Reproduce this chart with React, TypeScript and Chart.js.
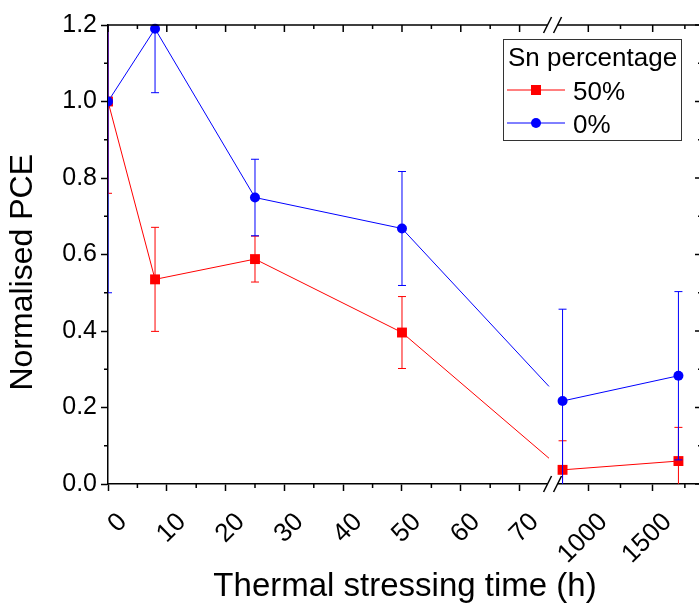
import React, { useEffect, useRef } from 'react';
import { Chart, registerables, LinearScale } from 'chart.js';

Chart.register(...registerables);

// ---------------- data ----------------
const TIME_H = [0, 8, 25, 50, 800, 1700];
const PCE_SN50 = [1.0, 0.535, 0.588, 0.396, 0.037, 0.06];
const ERR_SN50 = [0.24, 0.136, 0.06, 0.094, 0.076, 0.088];
const PCE_SN0 = [1.0, 1.19, 0.749, 0.668, 0.217, 0.283];
const ERR_SN0 = [0.5, 0.167, 0.1, 0.149, 0.24, 0.22];

const X_MAJOR_TICKS = [0, 10, 20, 30, 40, 50, 60, 70, 1000, 1500];
const X_MINOR_TICKS = [5, 15, 25, 35, 45, 55, 65, 1250, 1750];
const Y_MINOR_TICKS = [0.1, 0.3, 0.5, 0.7, 0.9, 1.1];

const SERIES_LABELS = ['50%', '0%'];
const LEGEND_TITLE = 'Sn percentage';
const X_TITLE = 'Thermal stressing time (h)';
const Y_TITLE = 'Normalised PCE';

// axis break: first segment 0..BREAK_FROM, second BREAK_TO..X_MAX
const BREAK_FROM = 75;
const BREAK_TO = 750;
const X_MAX = 1883;
const SEG1_FRAC = 0.7424;
const SEG2_FRAC = 0.7544;

const FONT = '"Liberation Sans", Arial, Helvetica, sans-serif';
const RED = '#ff0000';
const BLUE = '#0000ff';

// ---------------- broken linear scale ----------------
class BrokenLinearScale extends LinearScale {
  static id = 'brokenLinear';
  static defaults = LinearScale.defaults;

  buildTicks() {
    return X_MAJOR_TICKS.map((value) => ({ value }));
  }

  valueToDecimal(v: number) {
    if (v <= BREAK_FROM) return (v / BREAK_FROM) * SEG1_FRAC;
    if (v >= BREAK_TO) return SEG2_FRAC + ((v - BREAK_TO) / (X_MAX - BREAK_TO)) * (1 - SEG2_FRAC);
    return SEG1_FRAC + ((v - BREAK_FROM) / (BREAK_TO - BREAK_FROM)) * (SEG2_FRAC - SEG1_FRAC);
  }

  getPixelForValue(v: number) {
    return this.getPixelForDecimal(this.valueToDecimal(v));
  }

  getValueForPixel(p: number) {
    const d = this.getDecimalForPixel(p);
    if (d <= SEG1_FRAC) return (d / SEG1_FRAC) * BREAK_FROM;
    if (d >= SEG2_FRAC) return BREAK_TO + ((d - SEG2_FRAC) / (1 - SEG2_FRAC)) * (X_MAX - BREAK_TO);
    return BREAK_FROM + ((d - SEG1_FRAC) / (SEG2_FRAC - SEG1_FRAC)) * (BREAK_TO - BREAK_FROM);
  }
}
Chart.register(BrokenLinearScale as any);

const LAST_BEFORE_BREAK = TIME_H.findIndex((t) => t > BREAK_FROM) - 1;

function toPoints(ys: number[]) {
  return TIME_H.map((x, i) => ({ x, y: ys[i] }));
}

// ---------------- decoration plugin ----------------
const decorPlugin = {
  id: 'decor',
  beforeDatasetDraw(chart: any, args: any) {
    const { ctx, chartArea: a } = chart;
    const xs = chart.scales.x;
    const ys = chart.scales.y;
    const ds = chart.data.datasets[args.index];
    const meta = args.meta;
    ctx.save();
    ctx.beginPath();
    ctx.rect(a.left, a.top, a.right - a.left, a.bottom - a.top);
    ctx.clip();
    // error bars
    ctx.strokeStyle = ds.borderColor;
    ctx.lineWidth = 1;
    meta.data.forEach((pt: any, i: number) => {
      const v = ds.data[i].y;
      const e = ds.errorBars[i];
      const x = pt.x;
      const yT = ys.getPixelForValue(v + e);
      const yB = ys.getPixelForValue(v - e);
      ctx.beginPath();
      ctx.moveTo(x, yT);
      ctx.lineTo(x, yB);
      ctx.moveTo(x - 4, yT);
      ctx.lineTo(x + 4, yT);
      ctx.moveTo(x - 4, yB);
      ctx.lineTo(x + 4, yB);
      ctx.stroke();
    });
    // partial line running into the axis break
    const p0 = meta.data[LAST_BEFORE_BREAK];
    const p1 = meta.data[LAST_BEFORE_BREAK + 1];
    if (p0 && p1) {
      const xb = xs.getPixelForValue(BREAK_FROM);
      const t = (xb - p0.x) / (p1.x - p0.x);
      ctx.beginPath();
      ctx.moveTo(p0.x, p0.y);
      ctx.lineTo(xb, p0.y + t * (p1.y - p0.y));
      ctx.stroke();
    }
    ctx.restore();
  },
  afterDraw(chart: any) {
    const { ctx, chartArea: a } = chart;
    const xs = chart.scales.x;
    const ys = chart.scales.y;
    ctx.save();
    ctx.strokeStyle = '#000';
    ctx.lineWidth = 1.5;
    // top and right frame
    ctx.beginPath();
    ctx.moveTo(a.left, a.top);
    ctx.lineTo(a.right, a.top);
    ctx.lineTo(a.right, a.bottom);
    ctx.stroke();
    ctx.beginPath();
    X_MAJOR_TICKS.forEach((v) => {
      const x = xs.getPixelForValue(v);
      ctx.moveTo(x, a.top);
      ctx.lineTo(x, a.top + 7);
    });
    X_MINOR_TICKS.forEach((v) => {
      const x = xs.getPixelForValue(v);
      ctx.moveTo(x, a.top);
      ctx.lineTo(x, a.top + 4);
      ctx.moveTo(x, a.bottom);
      ctx.lineTo(x, a.bottom + 4);
    });
    ys.ticks.forEach((t: any) => {
      const y = ys.getPixelForValue(t.value);
      ctx.moveTo(a.right - 7, y);
      ctx.lineTo(a.right, y);
    });
    Y_MINOR_TICKS.forEach((v) => {
      const y = ys.getPixelForValue(v);
      ctx.moveTo(a.left - 4, y);
      ctx.lineTo(a.left, y);
      ctx.moveTo(a.right - 4, y);
      ctx.lineTo(a.right, y);
    });
    ctx.stroke();

    // axis break marks
    const xa = xs.getPixelForValue(BREAK_FROM);
    const xb = xs.getPixelForValue(BREAK_TO);
    const mid = (xa + xb) / 2;
    [a.top, a.bottom].forEach((y) => {
      ctx.fillStyle = '#fff';
      ctx.fillRect(mid - 5, y - 2, 10, 4);
      ctx.beginPath();
      [mid - 5, mid + 5].forEach((cx) => {
        ctx.moveTo(cx - 4, y + 8);
        ctx.lineTo(cx + 4, y - 8);
      });
      ctx.stroke();
    });

    // legend
    const lx = a.right - 199;
    const ly = a.top + 14;
    const lw = 178;
    const lh = 101;
    ctx.fillStyle = '#fff';
    ctx.fillRect(lx, ly, lw, lh);
    ctx.lineWidth = 1;
    ctx.strokeStyle = '#333';
    ctx.strokeRect(lx + 0.5, ly + 0.5, lw, lh);
    ctx.fillStyle = '#000';
    ctx.font = `26px ${FONT}`;
    ctx.textAlign = 'left';
    ctx.textBaseline = 'alphabetic';
    ctx.fillText(LEGEND_TITLE, lx + 5, ly + 27);
    const rows = [ly + 51, ly + 84];
    chart.data.datasets.forEach((ds: any, i: number) => {
      const y = rows[i];
      ctx.strokeStyle = ds.borderColor;
      ctx.lineWidth = 1;
      ctx.beginPath();
      ctx.moveTo(lx + 4, y);
      ctx.lineTo(lx + 62, y);
      ctx.stroke();
      ctx.fillStyle = ds.backgroundColor;
      ctx.beginPath();
      if (ds.pointStyle === 'rect') {
        ctx.rect(lx + 33 - 5, y - 5, 10, 10);
      } else {
        ctx.arc(lx + 33, y, 5, 0, Math.PI * 2);
      }
      ctx.fill();
      ctx.fillStyle = '#000';
      ctx.fillText(ds.label, lx + 70, y + 9.5);
    });
    ctx.restore();
  },
};

export default function App() {
  const ref = useRef<HTMLCanvasElement>(null);
  useEffect(() => {
    const canvas = ref.current;
    if (!canvas) return;
    const chart = new Chart(canvas, {
      type: 'line',
      data: {
        datasets: [
          {
            label: SERIES_LABELS[0],
            data: toPoints(PCE_SN50),
            errorBars: ERR_SN50,
            borderColor: RED,
            backgroundColor: RED,
            borderWidth: 1,
            pointStyle: 'rect',
            pointRadius: 7,
            pointBorderWidth: 0,
            order: 2,
            clip: { left: 0, top: 6, right: 6, bottom: 6 },
            segment: {
              borderColor: (c: any) => (c.p0DataIndex === LAST_BEFORE_BREAK ? 'rgba(0,0,0,0)' : undefined),
            },
          } as any,
          {
            label: SERIES_LABELS[1],
            data: toPoints(PCE_SN0),
            errorBars: ERR_SN0,
            borderColor: BLUE,
            backgroundColor: BLUE,
            borderWidth: 1,
            pointStyle: 'circle',
            pointRadius: 5,
            pointBorderWidth: 0,
            order: 1,
            clip: { left: 0, top: 6, right: 6, bottom: 6 },
            segment: {
              borderColor: (c: any) => (c.p0DataIndex === LAST_BEFORE_BREAK ? 'rgba(0,0,0,0)' : undefined),
            },
          } as any,
        ],
      },
      options: {
        animation: false,
        responsive: false,
        devicePixelRatio: 1,
        layout: { padding: { left: 0, right: 18, top: 25, bottom: 0 } },
        plugins: { legend: { display: false }, tooltip: { enabled: false } },
        scales: {
          x: {
            type: 'brokenLinear' as any,
            position: 'bottom',
            min: 0,
            max: X_MAX,
            afterFit: (s: any) => {
              s.height = 123;
              s.paddingLeft = 0;
              s.paddingRight = 0;
            },
            grid: { drawOnChartArea: false, drawTicks: true, tickLength: 7, tickColor: '#000', tickWidth: 1.5 },
            border: { display: true, color: '#000', width: 1.5 },
            ticks: {
              autoSkip: false,
              minRotation: 45,
              maxRotation: 45,
              padding: 16,
              labelOffset: 15,
              color: '#000',
              font: { family: FONT, size: 26 },
              callback: (v: any) => String(v),
            },
            title: {
              display: true,
              text: X_TITLE,
              color: '#000',
              font: { family: FONT, size: 33 },
              padding: { top: 0, bottom: 0 },
            },
          } as any,
          y: {
            position: 'left',
            min: 0,
            max: 1.2,
            afterFit: (s: any) => {
              s.width = 108;
            },
            grid: { drawOnChartArea: false, drawTicks: true, tickLength: 7, tickColor: '#000', tickWidth: 1.5 },
            border: { display: true, color: '#000', width: 1.5 },
            ticks: {
              stepSize: 0.2,
              padding: 4,
              color: '#000',
              font: { family: FONT, size: 25 },
              callback: (v: any) => Number(v).toFixed(1),
            },
            title: {
              display: true,
              text: Y_TITLE + '    ',
              color: '#000',
              font: { family: FONT, size: 32 },
              padding: { top: 4, bottom: 0 },
            },
          },
        },
      },
      plugins: [decorPlugin],
    } as any);
    return () => chart.destroy();
  }, []);
  return (
    <div
      style={{
        position: 'fixed',
        left: 0,
        top: 0,
        width: 699,
        height: 607,
        overflow: 'hidden',
        background: '#fff',
      }}
    >
      <canvas ref={ref} width={720} height={607} style={{ display: 'block', width: 720, height: 607 }} />
    </div>
  );
}
